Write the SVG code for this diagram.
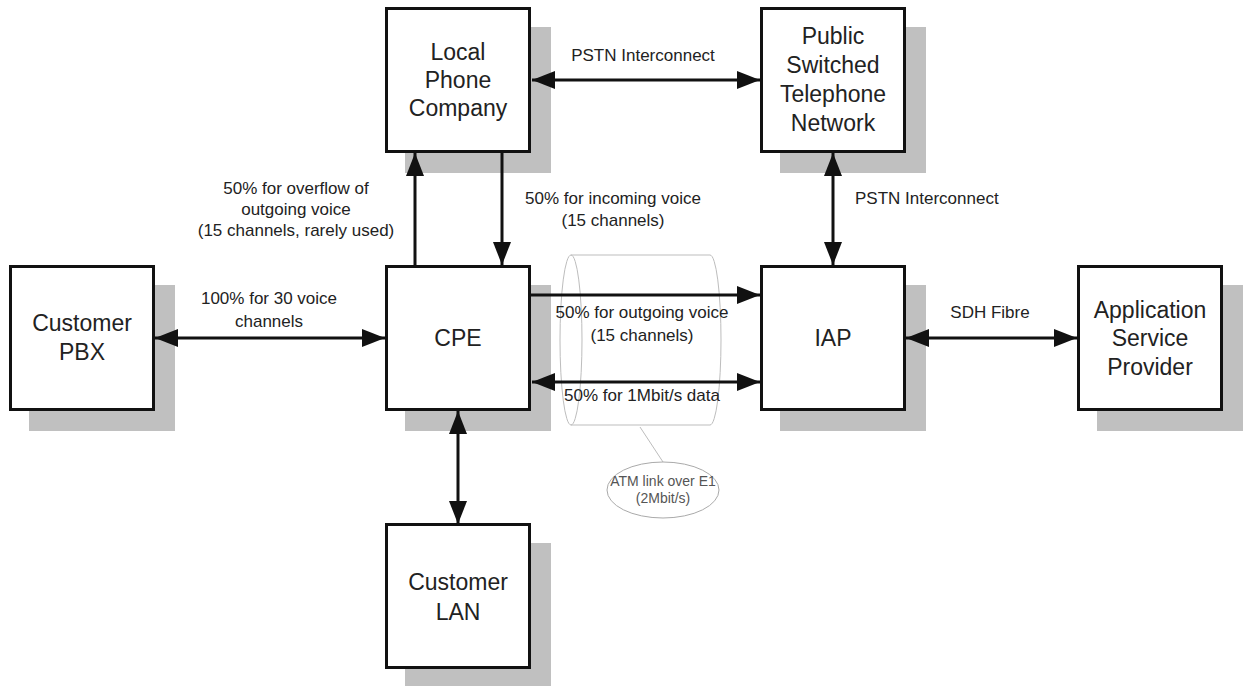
<svg xmlns="http://www.w3.org/2000/svg" width="1247" height="686" viewBox="0 0 1247 686">
<style>
.box{fill:#fff;stroke:#111;stroke-width:3}
.sh{fill:#c0c0c0}
.nt{font-family:"Liberation Sans",Arial,sans-serif;font-size:23px;fill:#222;text-anchor:middle}
.lb{font-family:"Liberation Sans",Arial,sans-serif;font-size:17px;fill:#222;text-anchor:middle}
.con{stroke:#111;stroke-width:3;fill:none}
.thin{stroke:#bdbdbd;stroke-width:1;fill:none}
.at{font-family:"Liberation Sans",Arial,sans-serif;font-size:14px;fill:#555;text-anchor:middle}
</style>
<defs>
<marker id="ah" markerUnits="userSpaceOnUse" markerWidth="26" markerHeight="20" refX="23" refY="9" orient="auto-start-reverse">
<path d="M0,0 L23,9 L0,18 z" fill="#111"/>
</marker>
</defs>
<rect width="1247" height="686" fill="#fff"/>

<g id="atm-link">
<path class="thin" d="M571,255 L710,255 A11,85 0 0 1 710,425 L571,425"/>
<ellipse class="thin" cx="571" cy="340" rx="11" ry="85"/>
<line class="thin" x1="640" y1="427" x2="663" y2="462"/>
<ellipse cx="663" cy="490" rx="56" ry="28" fill="#fff" stroke="#aaa" stroke-width="1"/>
<text class="at" x="663" y="486">ATM link over E1</text>
<text class="at" x="663" y="503">(2Mbit/s)</text>
</g>

<g id="node-lpc">
<rect class="sh" x="405" y="27" width="146" height="146"/>
<rect class="box" x="386.5" y="8.5" width="143" height="143"/>
<text class="nt" x="458" y="60">Local</text>
<text class="nt" x="458" y="88">Phone</text>
<text class="nt" x="458" y="116">Company</text>
</g>
<g id="node-pstn">
<rect class="sh" x="780" y="27" width="146" height="146"/>
<rect class="box" x="761.5" y="8.5" width="143" height="143"/>
<text class="nt" x="833" y="44">Public</text>
<text class="nt" x="833" y="73">Switched</text>
<text class="nt" x="833" y="102">Telephone</text>
<text class="nt" x="833" y="131">Network</text>
</g>
<g id="node-pbx">
<rect class="sh" x="29" y="285" width="146" height="146"/>
<rect class="box" x="10.5" y="266.5" width="143" height="143"/>
<text class="nt" x="82" y="331">Customer</text>
<text class="nt" x="82" y="360">PBX</text>
</g>
<g id="node-cpe">
<rect class="sh" x="405" y="285" width="146" height="146"/>
<rect class="box" x="386.5" y="266.5" width="143" height="143"/>
<text class="nt" x="458" y="346">CPE</text>
</g>
<g id="node-iap">
<rect class="sh" x="780" y="285" width="146" height="146"/>
<rect class="box" x="761.5" y="266.5" width="143" height="143"/>
<text class="nt" x="833" y="346">IAP</text>
</g>
<g id="node-asp">
<rect class="sh" x="1097" y="285" width="146" height="146"/>
<rect class="box" x="1078.5" y="266.5" width="143" height="143"/>
<text class="nt" x="1150" y="318">Application</text>
<text class="nt" x="1150" y="346">Service</text>
<text class="nt" x="1150" y="375">Provider</text>
</g>
<g id="node-lan">
<rect class="sh" x="405" y="543" width="146" height="146"/>
<rect class="box" x="386.5" y="524.5" width="143" height="143"/>
<text class="nt" x="458" y="590">Customer</text>
<text class="nt" x="458" y="620">LAN</text>
</g>

<g id="connectors">
<line class="con" x1="532" y1="80" x2="760" y2="80" marker-start="url(#ah)" marker-end="url(#ah)"/>
<line class="con" x1="502" y1="153" x2="502" y2="265" marker-end="url(#ah)"/>
<line class="con" x1="415" y1="265" x2="415" y2="153" marker-end="url(#ah)"/>
<line class="con" x1="155" y1="338" x2="385" y2="338" marker-start="url(#ah)" marker-end="url(#ah)"/>
<line class="con" x1="833" y1="153" x2="833" y2="265" marker-start="url(#ah)" marker-end="url(#ah)"/>
<line class="con" x1="531" y1="295" x2="760" y2="295" marker-end="url(#ah)"/>
<line class="con" x1="532" y1="382" x2="760" y2="382" marker-start="url(#ah)" marker-end="url(#ah)"/>
<line class="con" x1="906" y1="338" x2="1077" y2="338" marker-start="url(#ah)" marker-end="url(#ah)"/>
<line class="con" x1="458" y1="411" x2="458" y2="524" marker-start="url(#ah)" marker-end="url(#ah)"/>
<text class="lb" x="643" y="61">PSTN Interconnect</text>
<text class="lb" x="613" y="204">50% for incoming voice</text>
<text class="lb" x="613" y="226">(15 channels)</text>
<text class="lb" x="296" y="194">50% for overflow of</text>
<text class="lb" x="296" y="215">outgoing voice</text>
<text class="lb" x="296" y="236">(15 channels, rarely used)</text>
<text class="lb" x="269" y="304">100% for 30 voice</text>
<text class="lb" x="269" y="327">channels</text>
<text class="lb" x="855" y="204" style="text-anchor:start">PSTN Interconnect</text>
<text class="lb" x="642" y="318">50% for outgoing voice</text>
<text class="lb" x="642" y="341">(15 channels)</text>
<text class="lb" x="642" y="401">50% for 1Mbit/s data</text>
<text class="lb" x="990" y="318">SDH Fibre</text>
</g>
</svg>
